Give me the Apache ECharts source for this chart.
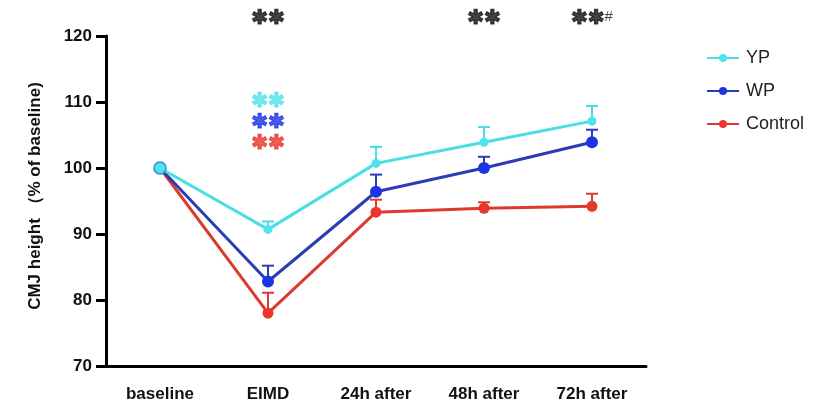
<!DOCTYPE html>
<html><head><meta charset="utf-8">
<script src="https://cdn.jsdelivr.net/npm/echarts@6/dist/echarts.min.js"></script>
<style>html,body{margin:0;padding:0;background:#fff}#c{width:826px;height:405px}</style>
</head><body><div id="c"></div>
<script>
const categories = ['baseline', 'EIMD', '24h after', '48h after', '72h after'];
const yTicks = [70, 80, 90, 100, 110, 120];
const ypMean = [100, 90.7, 100.7, 103.9, 107.1];
const ypErr  = [0, 1.2, 2.5, 2.3, 2.3];
const wpMean = [100, 82.8, 96.4, 100.0, 103.9];
const wpErr  = [0, 2.4, 2.6, 1.7, 1.9];
const ctlMean = [100, 78.0, 93.3, 93.9, 94.2];
const ctlErr  = [0, 3.1, 1.9, 0.9, 1.9];
const topSig = [['EIMD', 122.6, '{s|✱✱}'], ['48h after', 122.6, '{s|✱✱}'], ['72h after', 122.6, '{s|✱✱}{h|#}']];
const eimdSig = [['EIMD', 110.0, 'YP'], ['EIMD', 106.8, 'WP'], ['EIMD', 103.6, 'Control']];

const COL = {YP: '#52e2ea', WP: '#1c34e6', Control: '#e8372c'};
const LINE = {YP: '#49dde4', WP: '#2a3cb4', Control: '#dd3a2e'};
const FONT = 'Liberation Sans, Arial';

function errSeries(name, mean, err) {
  return {
    type: 'custom', name: name + '_err', z: 1,
    data: mean.map((m, i) => [i, m, m + err[i]]),
    renderItem: function (params, api) {
      const e = api.value(2), m = api.value(1);
      if (e - m <= 0) return null;
      const p0 = api.coord([api.value(0), m]);
      const p1 = api.coord([api.value(0), e]);
      const hw = 6;
      const st = {stroke: LINE[name], lineWidth: 2};
      return {type: 'group', children: [
        {type: 'line', shape: {x1: p0[0], y1: p0[1], x2: p1[0], y2: p1[1]}, style: st},
        {type: 'line', shape: {x1: p1[0] - hw, y1: p1[1], x2: p1[0] + hw, y2: p1[1]}, style: st}
      ]};
    }
  };
}
function lineSeries(name, mean, z, size) {
  return {
    type: 'line', name: name, z: z,
    data: mean.map((m, i) => (name === 'YP' && i === 0)
      ? {value: m, symbolSize: 12, itemStyle: {borderColor: '#2f8fd0', borderWidth: 1.5}}
      : m),
    symbol: 'circle', symbolSize: size,
    itemStyle: {color: COL[name]},
    lineStyle: {color: LINE[name], width: 3}
  };
}

const chart = echarts.init(document.getElementById('c'), null, {renderer: 'canvas'});
chart.setOption({
  animation: false,
  backgroundColor: '#fff',
  grid: {left: 106, top: 36, width: 540, height: 330},
  legend: {
    orient: 'vertical', left: 701, top: 44, itemGap: 15,
    itemWidth: 32, itemHeight: 10,
    textStyle: {fontFamily: FONT, fontSize: 18, color: '#222', padding: [0, 0, 0, 2]},
    data: ['YP', 'WP', 'Control']
  },
  xAxis: {
    type: 'category', data: categories, boundaryGap: true,
    axisLine: {lineStyle: {color: '#000', width: 3}},
    axisTick: {alignWithLabel: true, length: 8, lineStyle: {color: '#000', width: 3}},
    axisLabel: {color: '#111', fontFamily: FONT, fontWeight: 'bold', fontSize: 17, margin: 20}
  },
  yAxis: {
    type: 'value', min: 70, max: 120, interval: 10,
    name: 'CMJ height （% of baseline)', nameLocation: 'middle', nameGap: 62, nameRotate: 90,
    nameTextStyle: {color: '#111', fontFamily: FONT, fontWeight: 'bold', fontSize: 17, padding: [0, 0, 0, 10]},
    axisLine: {show: true, lineStyle: {color: '#000', width: 3}},
    axisTick: {show: true, length: 10, lineStyle: {color: '#000', width: 3}},
    splitLine: {show: false},
    axisLabel: {color: '#111', fontFamily: FONT, fontWeight: 'bold', fontSize: 17, margin: 14,
      formatter: v => yTicks.indexOf(v) >= 0 ? String(v) : ''}
  },
  series: [
    errSeries('Control', ctlMean, ctlErr),
    errSeries('WP', wpMean, wpErr),
    errSeries('YP', ypMean, ypErr),
    lineSeries('Control', ctlMean, 2, 11),
    lineSeries('WP', wpMean, 3, 12),
    lineSeries('YP', ypMean, 4, 9),
    {
      type: 'scatter', name: 'sigTop', clip: false, symbolSize: 0, silent: true,
      data: topSig.map(d => ({value: [d[0], d[1]], label: {formatter: d[2]}})),
      label: {show: true, position: 'inside',
        rich: {s: {fontSize: 20, color: '#111', fontFamily: 'DejaVu Sans', textBorderColor: '#111', textBorderWidth: 1.2},
               h: {fontSize: 15, color: '#111', fontFamily: FONT, padding: [0, 0, 4, 0]}}}
    },
    {
      type: 'scatter', name: 'sigEimd', clip: false, symbolSize: 0, silent: true,
      data: eimdSig.map(d => ({value: [d[0], d[1]], label: {color: COL[d[2]], textBorderColor: COL[d[2]]}})),
      label: {show: true, position: 'inside', formatter: '✱✱', fontSize: 20, fontFamily: 'DejaVu Sans', textBorderWidth: 1.2}
    }
  ]
});
</script></body></html>
